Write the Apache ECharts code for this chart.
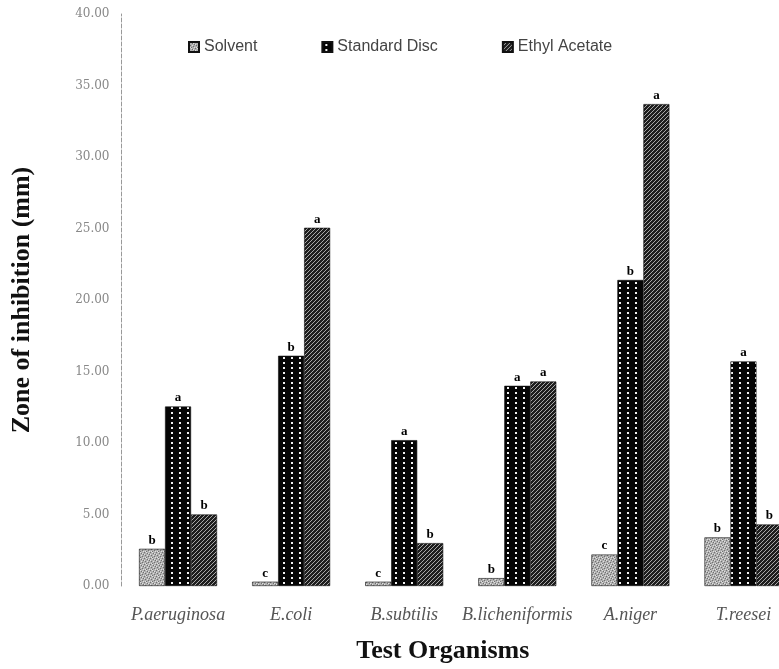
<!DOCTYPE html>
<html>
<head>
<meta charset="utf-8">
<script src="https://cdn.jsdelivr.net/npm/echarts@6/dist/echarts.min.js"></script>
<style>
html, body { margin: 0; padding: 0; background: #fff; overflow: hidden; }
/* the scan cuts the last group off, so the chart runs past the window */
#mainArea { width: 800px; height: 669px; }
</style>
</head>
<body>
<div id="mainArea"></div>
<script>
// data
var organisms = ['P.aeruginosa', 'E.coli', 'B.subtilis', 'B.licheniformis', 'A.niger', 'T.reesei'];
var seriesNames = ['Solvent', 'Standard Disc', 'Ethyl Acetate'];
var solvent = [2.6, 0.3, 0.3, 0.55, 2.2, 3.4];
var standardDisc = [12.55, 16.1, 10.2, 14.0, 21.4, 15.7];
var ethylAcetate = [5.0, 25.05, 3.0, 14.3, 33.7, 4.3];
var solventLetters = ['b', 'c', 'c', 'b', 'c', 'b'];
var standardLetters = ['a', 'b', 'a', 'a', 'b', 'a'];
var ethylLetters = ['b', 'a', 'b', 'a', 'a', 'b'];
var yTicks = [0, 5, 10, 15, 20, 25, 30, 35, 40];

// little canvas tiles used as bar fills
function makeTile(w, h, draw) {
	var c = document.createElement('canvas');
	c.width = w;
	c.height = h;
	draw(c.getContext('2d'));
	return c;
}

var speckle = makeTile(6, 6, function (ctx) {
	ctx.fillStyle = '#b0b0b0';
	ctx.fillRect(0, 0, 6, 6);
	var dark = [[0, 0], [3, 1], [5, 2], [1, 3], [4, 4], [2, 5]];
	var light = [[2, 0], [0, 2], [4, 1], [3, 3], [5, 5], [1, 5]];
	ctx.fillStyle = '#707070';
	dark.forEach(function (p) { ctx.fillRect(p[0], p[1], 1, 1); });
	ctx.fillStyle = '#e0e0e0';
	light.forEach(function (p) { ctx.fillRect(p[0], p[1], 1, 1); });
});

var dots = makeTile(8, 5, function (ctx) {
	ctx.fillStyle = '#050505';
	ctx.fillRect(0, 0, 8, 5);
	ctx.fillStyle = '#f2f2f2';
	ctx.fillRect(3, 2, 2, 2);
});

var hatch = makeTile(4, 4, function (ctx) {
	ctx.fillStyle = '#1e1e1e';
	ctx.fillRect(0, 0, 4, 4);
	ctx.fillStyle = '#a8a8a8';
	ctx.fillRect(3, 0, 1, 1);
	ctx.fillRect(2, 1, 1, 1);
	ctx.fillRect(1, 2, 1, 1);
	ctx.fillRect(0, 3, 1, 1);
});

function barSeries(name, values, letters, tile) {
	return {
		name: name,
		type: 'bar',
		barWidth: 26,
		barGap: '0%',
		itemStyle: {
			color: { image: tile, repeat: 'repeat' },
			borderColor: '#111',
			borderWidth: 0.6
		},
		label: {
			show: true,
			position: 'top',
			distance: 2,
			formatter: function (p) { return letters[p.dataIndex]; },
			fontFamily: 'Liberation Serif',
			fontWeight: 'bold',
			fontSize: 13,
			color: '#000'
		},
		data: values
	};
}

var option = {
	animation: false,
	backgroundColor: '#fff',
	legend: {
		left: 183,
		top: 34,
		itemGap: 64,
		itemWidth: 10,
		itemHeight: 10,
		icon: 'rect',
		textStyle: {
			fontFamily: 'Liberation Sans',
			fontSize: 16,
			color: '#444'
		},
		data: seriesNames
	},
	grid: {
		left: 121.5,
		right: 0,
		top: 14,
		bottom: 82
	},
	xAxis: {
		type: 'category',
		data: organisms,
		name: 'Test Organisms',
		nameLocation: 'middle',
		nameGap: 52,
		nameTextStyle: {
			fontFamily: 'Liberation Serif',
			fontWeight: 'bold',
			fontSize: 26,
			color: '#111',
			padding: [0, 36, 0, 0]
		},
		axisLine: { show: false },
		axisTick: { show: false },
		axisLabel: {
			interval: 0,
			margin: 20,
			fontFamily: 'Liberation Serif',
			fontStyle: 'italic',
			fontSize: 18,
			color: '#555'
		}
	},
	yAxis: {
		type: 'value',
		min: yTicks[0],
		max: yTicks[yTicks.length - 1],
		interval: 5,
		name: 'Zone of inhibition (mm)',
		nameLocation: 'middle',
		nameGap: 86,
		nameTextStyle: {
			fontFamily: 'Liberation Serif',
			fontWeight: 'bold',
			fontSize: 26,
			color: '#111'
		},
		axisLine: {
			show: true,
			lineStyle: { color: '#999', type: 'dashed', width: 1 }
		},
		axisTick: { show: false },
		splitLine: { show: false },
		axisLabel: {
			margin: 12,
			fontFamily: 'DejaVu Serif',
			fontSize: 12,
			color: '#888',
			formatter: function (v) { return v.toFixed(2); }
		}
	},
	series: [
		barSeries(seriesNames[0], solvent, solventLetters, speckle),
		barSeries(seriesNames[1], standardDisc, standardLetters, dots),
		barSeries(seriesNames[2], ethylAcetate, ethylLetters, hatch)
	]
};

var myChart = echarts.init(document.getElementById('mainArea'));
myChart.setOption(option);
</script>
</body>
</html>
